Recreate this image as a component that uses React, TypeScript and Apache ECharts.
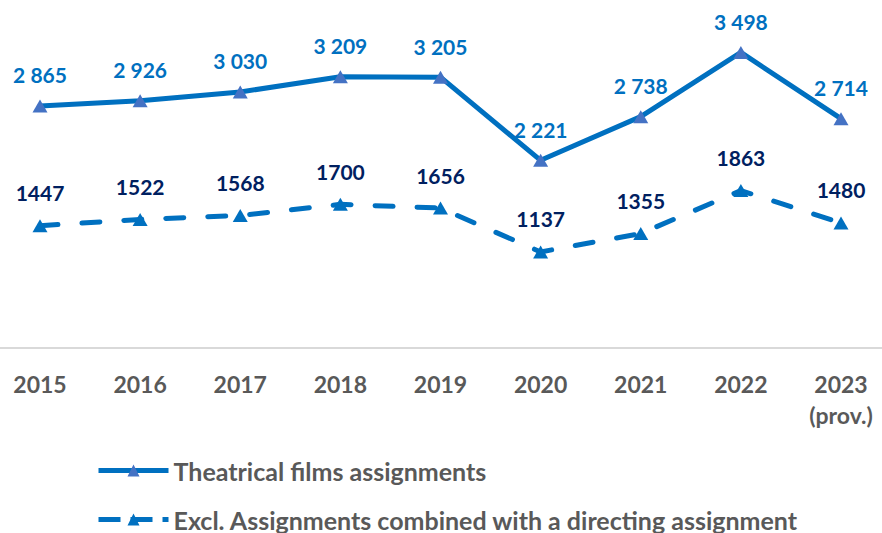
import React, { useEffect, useRef } from "react";
import * as echarts from "echarts";

const categories = ["2015", "2016", "2017", "2018", "2019", "2020", "2021", "2022", "2023\n(prov.)"];
const theatrical = [2865, 2926, 3030, 3209, 3205, 2221, 2738, 3498, 2714];
const excl = [1447, 1522, 1568, 1700, 1656, 1137, 1355, 1863, 1480];
const seriesNames = ["Theatrical films assignments", "Excl. Assignments combined with a directing assignment"];

const fmtSpace = (v: number) => String(v).replace(/\B(?=(\d{3})+(?!\d))/g, " ");

export default function App() {
  const ref = useRef<HTMLDivElement>(null);
  useEffect(() => {
    if (!ref.current) return;
    const chart = echarts.init(ref.current, null, { renderer: "svg" });
    const font = "Lato, 'Open Sans', sans-serif";
    const legendText = { fontFamily: font, fontSize: 25, lineHeight: 24, fontWeight: "bold", color: "#595959" };
    chart.setOption({
      animation: false,
      backgroundColor: "#ffffff",
      textStyle: { fontFamily: font },
      grid: { left: 40, right: 41, top: 10, bottom: 185, containLabel: false },
      legend: [
        {
          left: 96,
          top: 458,
          padding: 0,
          itemWidth: 70,
          itemHeight: 15,
          itemGap: 6,
          lineStyle: { width: 5 },
          textStyle: legendText,
          data: [seriesNames[0]],
        },
        {
          left: 96,
          top: 507,
          padding: 0,
          itemWidth: 70,
          itemHeight: 15,
          lineStyle: { width: 5, type: [22, 10], cap: "butt" },
          textStyle: legendText,
          data: [seriesNames[1]],
        },
      ],
      graphic: [
        {
          type: "line",
          shape: { x1: 0, y1: 348, x2: 882, y2: 348 },
          style: { stroke: "#D9D9D9", lineWidth: 2 },
          z: 0,
        },
      ],
      xAxis: {
        type: "category",
        data: categories,
        boundaryGap: false,
        axisLine: { show: false },
        axisTick: { show: false },
        axisLabel: {
          margin: 20,
          fontFamily: font,
          fontSize: 23,
          fontWeight: "bold",
          color: "#595959",
          lineHeight: 31,
          interval: 0,
        },
      },
      yAxis: {
        type: "value",
        min: 0,
        max: 4000,
        show: false,
        splitLine: { show: false },
      },
      series: [
        {
          name: seriesNames[0],
          type: "line",
          data: theatrical,
          symbol: "triangle",
          symbolSize: [15, 13],
          itemStyle: { color: "#4472C4" },
          lineStyle: { color: "#0070C0", width: 5 },
          label: {
            show: true,
            position: "top",
            distance: 14,
            fontFamily: font,
            fontSize: 21,
            fontWeight: "bold",
            color: "#0070C0",
            formatter: (p: any) => fmtSpace(p.value),
          },
        },
        {
          name: seriesNames[1],
          type: "line",
          data: excl,
          symbol: "triangle",
          symbolSize: [15, 13],
          itemStyle: { color: "#0070C0" },
          lineStyle: { color: "#0070C0", width: 5, type: [18, 24], cap: "round" },
          label: {
            show: true,
            position: "top",
            distance: 16,
            fontFamily: font,
            fontSize: 21,
            fontWeight: "bold",
            color: "#002060",
          },
        },
      ],
    });
    return () => chart.dispose();
  }, []);
  return <div ref={ref} style={{ width: 882, height: 533, position: "absolute", left: 0, top: 0 }} />;
}
